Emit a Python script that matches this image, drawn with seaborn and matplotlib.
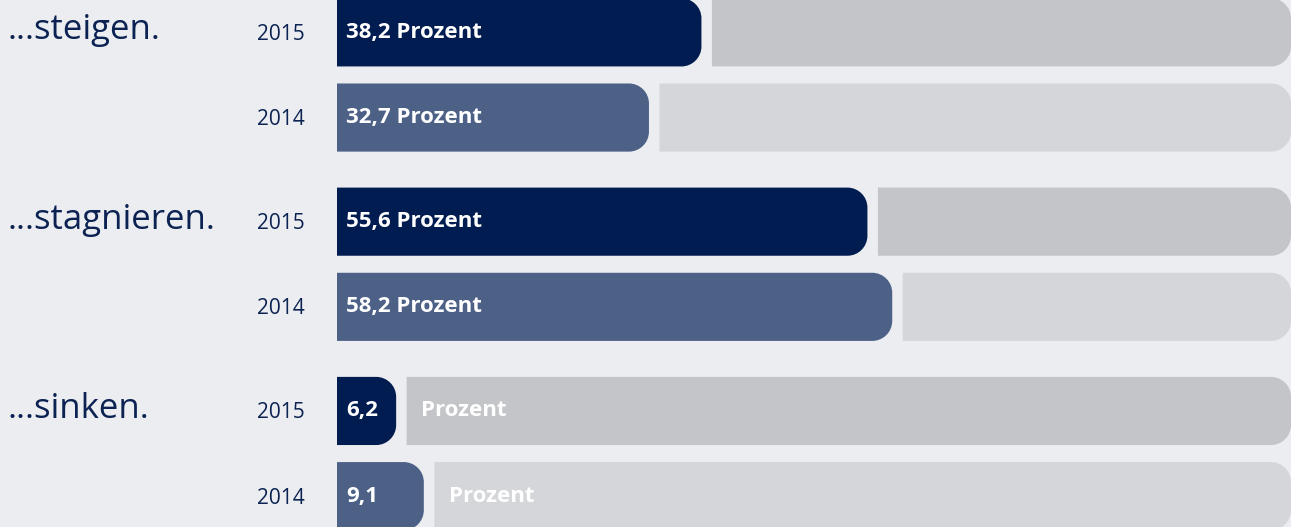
import matplotlib
matplotlib.use("Agg")
import matplotlib.pyplot as plt
import matplotlib.transforms as mtransforms
from matplotlib.path import Path
from matplotlib.patches import PathPatch
import pandas as pd
import seaborn as sns

# data
groups = ["...steigen.", "...stagnieren.", "...sinken."]
years = ["2015", "2014"]
values_2015 = [38.2, 55.6, 6.2]
values_2014 = [32.7, 58.2, 9.1]

bg = "#ecedf0"
navy = "#0b2252"
bar_colors = {"2015": "#011c50", "2014": "#4d6187"}
rest_colors = {"2015": "#c4c5c9", "2014": "#d5d6d9"}

rows = []
for g, v15, v14 in zip(groups, values_2015, values_2014):
    rows.append({"group": g, "year": "2015", "value": v15})
    rows.append({"group": g, "year": "2014", "value": v14})
df = pd.DataFrame(rows)
df["rest"] = 100 - df["value"]

sns.set_theme(style="white")
plt.rcParams["font.family"] = ["Open Sans", "DejaVu Sans"]

fig = plt.figure(figsize=(12.91, 5.27), dpi=100, facecolor=bg)
ax = fig.add_axes([337 / 1291, 0, 954 / 1291, 1])
ax.set_facecolor(bg)

sns.barplot(data=df, y="group", x="value", hue="year", order=groups,
            hue_order=years, palette=bar_colors, saturation=1, width=0.9,
            gap=0.2, legend=False, ax=ax, orient="h")
sns.barplot(data=df, y="group", x="rest", hue="year", order=groups,
            hue_order=years, palette=rest_colors, saturation=1, width=0.9,
            gap=0.2, legend=False, ax=ax, orient="h")

ax.set_xlim(0, 100)
ax.set_ylim(2.388, -0.396)
ax.axis("off")

gap = 1.1
px_x = 954 / 100          # pixels per percent
px_y = 527 / (2.388 + 0.396)
rx, ry = 20 / px_x, 20 / px_y
k = 0.5523


def rounded_right(x0, y0, w, h):
    x1, y1 = x0 + w, y0 + h
    verts = [(x0, y0), (x1 - rx, y0),
             (x1 - rx + k * rx, y0), (x1, y0 + ry - k * ry), (x1, y0 + ry),
             (x1, y1 - ry),
             (x1, y1 - ry + k * ry), (x1 - rx + k * rx, y1), (x1 - rx, y1),
             (x0, y1), (x0, y0)]
    codes = [Path.MOVETO, Path.LINETO,
             Path.CURVE4, Path.CURVE4, Path.CURVE4,
             Path.LINETO,
             Path.CURVE4, Path.CURVE4, Path.CURVE4,
             Path.LINETO, Path.CLOSEPOLY]
    return Path(verts, codes)


trans = mtransforms.blended_transform_factory(fig.transFigure, ax.transData)
conts = ax.containers
for i in range(2):
    for bar, rest in zip(conts[i], conts[i + 2]):
        x0, y0 = bar.get_x(), bar.get_y()
        w, h = bar.get_width(), bar.get_height()
        bar.set_visible(False)
        rest.set_visible(False)
        ax.add_patch(PathPatch(rounded_right(x0, y0, w, h),
                               facecolor=bar.get_facecolor(), lw=0, zorder=2))
        rs = x0 + w + gap
        ax.add_patch(PathPatch(rounded_right(rs, y0, rest.get_width() - gap, h),
                               facecolor=rest.get_facecolor(), lw=0, zorder=2))
        yc = y0 + h / 2
        label = f"{w:.1f}".replace(".", ",")
        if w > 15:
            ax.text(0.95, yc, label + " Prozent", color="white",
                    fontsize=16, fontweight="bold", va="center", ha="left",
                    zorder=3)
        else:
            ax.text(0.95, yc, label, color="white", fontsize=16,
                    fontweight="bold", va="center", ha="left", zorder=3)
            ax.text(rs + 1.5, yc, "Prozent", color="white", fontsize=16,
                    fontweight="bold", va="center", ha="left", zorder=3)
        # year label left of the bar
        ax.text(257 / 1291, yc + 0.01, years[i], color=navy, fontsize=15,
                va="center", ha="left", transform=trans, clip_on=False)

for gi, g in enumerate(groups):
    ax.text(7 / 1291, gi - 0.235, g, color=navy, fontsize=25,
            va="center", ha="left", transform=trans, clip_on=False)

fig.savefig("out.png", dpi=100, facecolor=bg)
